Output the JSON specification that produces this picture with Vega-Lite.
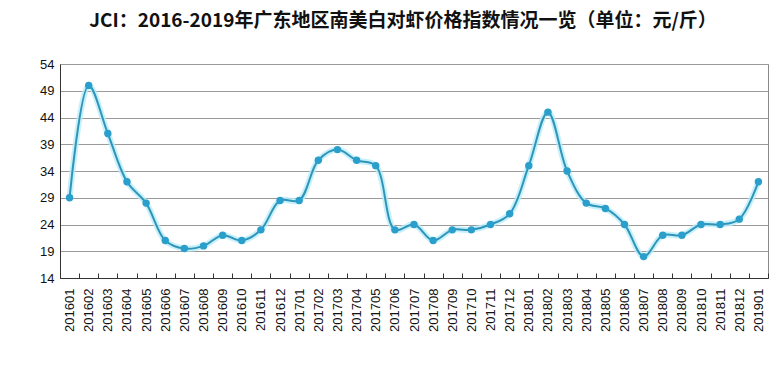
{
  "$schema": "https://vega.github.io/schema/vega-lite/v6.json",
  "autosize": "none",
  "width": 708,
  "height": 214,
  "padding": {"left": 60, "top": 64, "right": 16, "bottom": 113},
  "background": "white",
  "title": {
    "text": "JCI：2016-2019年广东地区南美白对虾价格指数情况一览（单位：元/斤）",
    "font": "Noto Sans CJK SC",
    "fontSize": 19,
    "fontWeight": "bold",
    "color": "#111111",
    "anchor": "middle",
    "dx": -11,
    "offset": 27
  },
  "config": {
    "view": {"stroke": "#8a8a8a", "strokeWidth": 1}
  },
  "data": {
    "values": [
      {"m": "201601", "v": 29}, {"m": "201602", "v": 50}, {"m": "201603", "v": 41},
      {"m": "201604", "v": 32}, {"m": "201605", "v": 28}, {"m": "201606", "v": 21},
      {"m": "201607", "v": 19.5}, {"m": "201608", "v": 20}, {"m": "201609", "v": 22},
      {"m": "201610", "v": 21}, {"m": "201611", "v": 23}, {"m": "201612", "v": 28.5},
      {"m": "201701", "v": 28.5}, {"m": "201702", "v": 36}, {"m": "201703", "v": 38},
      {"m": "201704", "v": 36}, {"m": "201705", "v": 35}, {"m": "201706", "v": 23},
      {"m": "201707", "v": 24}, {"m": "201708", "v": 21}, {"m": "201709", "v": 23},
      {"m": "201710", "v": 23}, {"m": "201711", "v": 24}, {"m": "201712", "v": 26},
      {"m": "201801", "v": 35}, {"m": "201802", "v": 45}, {"m": "201803", "v": 34},
      {"m": "201804", "v": 28}, {"m": "201805", "v": 27}, {"m": "201806", "v": 24},
      {"m": "201807", "v": 18}, {"m": "201808", "v": 22}, {"m": "201809", "v": 22},
      {"m": "201810", "v": 24}, {"m": "201811", "v": 24}, {"m": "201812", "v": 25},
      {"m": "201901", "v": 32}
    ]
  },
  "encoding": {
    "x": {
      "field": "m",
      "type": "ordinal",
      "sort": null,
      "scale": {"paddingInner": 0, "paddingOuter": 0},
      "axis": {
        "title": null,
        "labelAngle": -90,
        "labelFont": "Liberation Sans",
        "labelFontSize": 13,
        "labelColor": "#111111",
        "labelPadding": 15,
        "tickBand": "extent",
        "tickSize": -5,
        "tickColor": "#333333",
        "domainColor": "#333333",
        "grid": false
      }
    },
    "y": {
      "field": "v",
      "type": "quantitative",
      "scale": {"domain": [14, 54], "nice": false, "zero": false},
      "axis": {
        "title": null,
        "values": [14, 19, 24, 29, 34, 39, 44, 49, 54],
        "labelFont": "Liberation Sans",
        "labelFontSize": 13,
        "labelColor": "#111111",
        "labelPadding": 6,
        "ticks": false,
        "domainColor": "#333333",
        "gridColor": "#9a9a9a",
        "gridWidth": 1
      }
    }
  },
  "layer": [
    {
      "mark": {"type": "line", "interpolate": "catmull-rom", "stroke": "#b8ecfa", "strokeWidth": 6, "opacity": 0.8}
    },
    {
      "mark": {"type": "line", "interpolate": "catmull-rom", "stroke": "#2f95b8", "strokeWidth": 2}
    },
    {
      "mark": {"type": "circle", "size": 55, "color": "#2a9fcc", "opacity": 1}
    }
  ]
}
